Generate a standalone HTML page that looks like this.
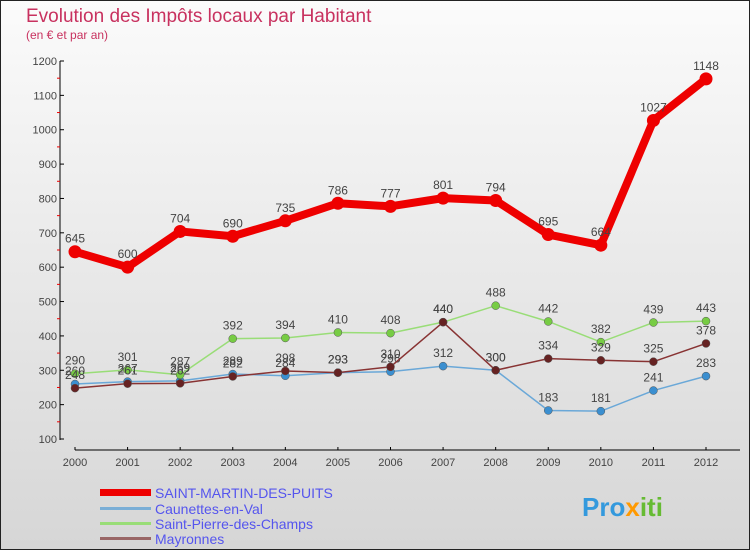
<!DOCTYPE html>
<html><head><meta charset="utf-8"><style>
body{margin:0;width:750px;height:550px;overflow:hidden;font-family:"Liberation Sans",sans-serif}
</style></head><body>
<svg id="c" width="750" height="550" xmlns="http://www.w3.org/2000/svg">
<defs><linearGradient id="bg" x1="0" y1="0" x2="0" y2="1"><stop offset="0" stop-color="#fbfbfb"/><stop offset="1" stop-color="#d6d6d6"/></linearGradient></defs>
<rect x="0.5" y="0.5" width="749" height="549" fill="url(#bg)" stroke="#222"/>
<text x="26" y="22" font-size="19" fill="#c8315f">Evolution des Impôts locaux par Habitant</text>
<text x="26" y="39" font-size="12" fill="#c8315f">(en € et par an)</text>
<g id="axes"></g><g id="series"></g>
<g>
<rect x="100" y="489" width="51" height="7" fill="#e00"/>
<text x="155" y="498" font-size="14" fill="#5555ee">SAINT-MARTIN-DES-PUITS</text>
<rect x="100" y="507" width="51" height="3" fill="#7aaed6"/>
<text x="155" y="514" font-size="14" fill="#5555ee">Caunettes-en-Val</text>
<rect x="100" y="522" width="51" height="3" fill="#99dd77"/>
<text x="155" y="529" font-size="14" fill="#5555ee">Saint-Pierre-des-Champs</text>
<rect x="100" y="537" width="51" height="3" fill="#996666"/>
<text x="155" y="544" font-size="14" fill="#5555ee">Mayronnes</text>
</g>
<text x="582" y="516" font-size="26" font-weight="bold"><tspan fill="#3399dd">Pro</tspan><tspan fill="#ff9900">x</tspan><tspan fill="#66bb33">iti</tspan></text>
</svg>
<script>
const years=["2000","2001","2002","2003","2004","2005","2006","2007","2008","2009","2010","2011","2012"];
const yTicks=[100,200,300,400,500,600,700,800,900,1000,1100,1200];
const saintMartin=[645,600,704,690,735,786,777,801,794,695,664,1027,1148];
const caunettes=[260,267,269,289,284,293,296,312,300,183,181,241,283];
const saintPierre=[290,301,287,392,394,410,408,440,488,442,382,439,443];
const mayronnes=[248,261,262,282,298,293,310,440,300,334,329,325,378];
const NS="http://www.w3.org/2000/svg";
function X(i){return 75+i*(706-75)/12;}
function Y(v){return 439-(v-100)*(439-61)/1100;}
function mk(t,a,p){const e=document.createElementNS(NS,t);for(const k in a)e.setAttribute(k,a[k]);p.appendChild(e);return e;}
const ax=document.getElementById('axes'),sg=document.getElementById('series');
const yl=mk('line',{x1:60,y1:61,x2:60,y2:440,stroke:'#000'},ax);


yTicks.forEach((v,i)=>{
 mk('line',{x1:60,x2:64,y1:Y(v),y2:Y(v),stroke:'#000'},ax);
 if(i<yTicks.length-1)mk('line',{x1:57,x2:60,y1:Y(v+50),y2:Y(v+50),stroke:'#e00'},ax);
 const t=mk('text',{x:57,y:Y(v)+4,'font-size':11,fill:'#444','text-anchor':'end'},ax);t.textContent=v;
 
 
});
const xl=mk('line',{x1:75,y1:450,x2:740,y2:450,stroke:'#000'},ax);


years.forEach((y,i)=>{
 mk('line',{x1:X(i),x2:X(i),y1:447,y2:450,stroke:'#000'},ax);
 const t=mk('text',{x:X(i),y:466,'font-size':11,fill:'#444','text-anchor':'middle'},ax);t.textContent=y;
 
 
});
function series(name,d,col,w,r,dot){
 const g=mk('g',{},sg);
 
 
 mk('polyline',{points:d.map((v,i)=>X(i)+','+Y(v)).join(' '),fill:'none',stroke:col,'stroke-width':w,'stroke-linejoin':'round'},g);
 d.forEach((v,i)=>{
  const c=mk('circle',{cx:X(i),cy:Y(v),r:r,fill:dot,stroke:'#555','stroke-width':r>5?0:0.5},g);
  
  
  const t=mk('text',{x:X(i),y:Y(v)-9,'font-size':12,fill:'#444','text-anchor':'middle'},g);t.textContent=v;
  
  
 });
}
series('caunettes',caunettes,'#6aa8d8',1.5,4,'#3b8fd0');
series('saint-pierre',saintPierre,'#99dd77',1.5,4,'#77cc44');
series('mayronnes',mayronnes,'#883333',1.5,4,'#662222');
series('saint-martin',saintMartin,'#ee0000',8,6.5,'#ee0000');
</script>
</body></html>
